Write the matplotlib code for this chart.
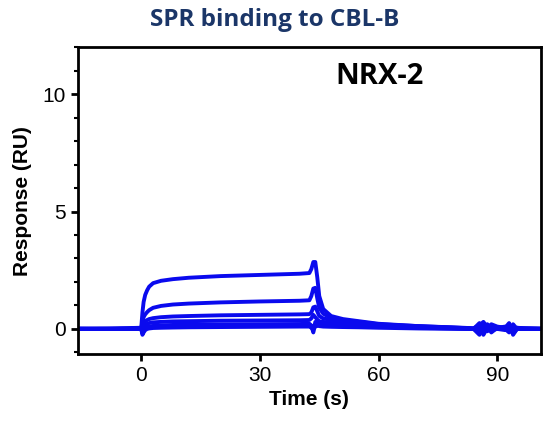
import matplotlib
matplotlib.use("Agg")
import matplotlib.pyplot as plt
from matplotlib.ticker import MultipleLocator

# Sensorgram time points (s), shared by all curves
time_s = [-16, -10, -5, 0, 0.3, 0.6, 1, 1.5, 2, 3, 5, 8, 12, 20, 30, 40,
          42.5, 43, 43.5, 44, 44.5, 45, 46, 48, 51, 55, 60, 70, 80, 84,
          85.5, 86.5, 87.5, 88.5, 90, 92, 93, 94, 95, 97, 101]

# Response (RU) for each concentration, highest first
resp_1 = [0.02, 0.0, 0.03, 0.05, 0.7, 1.15, 1.45, 1.65, 1.8, 1.95, 2.05, 2.12,
          2.18, 2.25, 2.3, 2.35, 2.38, 2.55, 2.85, 2.85, 2.2, 1.4, 0.85, 0.55,
          0.42, 0.33, 0.22, 0.12, 0.06, 0.03, 0.15, 0.3, 0.05, 0.2, 0.1, 0.05,
          0.25, -0.1, 0.05, 0.03, 0.02]
resp_2 = [0.0, 0.02, 0.0, 0.03, 0.3, 0.5, 0.62, 0.72, 0.8, 0.9, 0.98, 1.04,
          1.08, 1.13, 1.17, 1.2, 1.22, 1.4, 1.72, 1.75, 1.3, 0.9, 0.65, 0.47,
          0.38, 0.3, 0.2, 0.12, 0.05, 0.02, -0.1, 0.25, 0.1, -0.15, 0.05, 0.0,
          -0.15, 0.2, 0.0, 0.02, 0.0]
resp_3 = [0.0, 0.0, 0.02, 0.0, 0.12, 0.25, 0.33, 0.38, 0.42, 0.46, 0.5, 0.53,
          0.55, 0.58, 0.6, 0.62, 0.63, 0.7, 0.92, 0.95, 0.75, 0.55, 0.45, 0.38,
          0.32, 0.26, 0.18, 0.1, 0.04, 0.0, 0.25, -0.2, 0.1, 0.0, 0.05, 0.1,
          0.0, -0.15, 0.05, 0.0, 0.01]
resp_4 = [0.0, 0.01, 0.0, 0.0, -0.05, 0.1, 0.17, 0.22, 0.25, 0.28, 0.3, 0.32,
          0.33, 0.35, 0.36, 0.37, 0.38, 0.45, 0.6, 0.5, 0.4, 0.33, 0.3, 0.27,
          0.23, 0.2, 0.15, 0.08, 0.03, 0.0, -0.25, 0.1, 0.2, -0.05, 0.0, 0.0,
          0.2, -0.25, 0.0, 0.02, 0.0]
resp_5 = [0.01, 0.0, 0.0, 0.0, -0.2, -0.1, 0.0, 0.08, 0.1, 0.13, 0.15, 0.17,
          0.18, 0.19, 0.2, 0.21, 0.22, 0.15, -0.15, 0.3, 0.25, 0.2, 0.18, 0.16,
          0.14, 0.12, 0.1, 0.05, 0.02, 0.0, 0.1, -0.25, 0.05, 0.1, 0.0, 0.05,
          -0.05, 0.1, 0.0, 0.0, 0.0]
resp_6 = [0.0, 0.0, 0.0, 0.0, -0.25, -0.15, -0.05, 0.0, 0.02, 0.04, 0.05, 0.06,
          0.07, 0.08, 0.09, 0.1, 0.1, 0.05, -0.05, 0.1, 0.15, 0.12, 0.1, 0.09,
          0.08, 0.07, 0.05, 0.02, 0.0, 0.0, -0.1, 0.2, -0.1, 0.05, 0.0, -0.05,
          0.1, -0.2, 0.0, 0.0, 0.0]

curves = [resp_1, resp_2, resp_3, resp_4, resp_5, resp_6]

plt.rcParams["font.family"] = ["Liberation Sans", "DejaVu Sans"]

fig = plt.figure(figsize=(5.49, 4.21), dpi=100)
ax = fig.add_axes([0.142, 0.159, 0.843, 0.729])

for r in curves:
    ax.plot(time_s, r, color="#0a0aee", linewidth=2.8, solid_joinstyle="round")

ax.set_xlim(-16, 101)
ax.set_ylim(-1.07, 12)
ax.set_xticks([0, 30, 60, 90])
ax.set_yticks([0, 5, 10])
ax.yaxis.set_minor_locator(MultipleLocator(1))

for s in ax.spines.values():
    s.set_linewidth(2)
ax.tick_params(which="major", direction="out", length=5, width=2, labelsize=15)
ax.tick_params(which="minor", direction="out", length=3, width=1.5)

ax.set_xlabel("Time (s)", fontsize=15, fontweight="bold", labelpad=4)
ax.set_ylabel("Response (RU)", fontsize=15, fontweight="bold", labelpad=8)

ax.text(0.652, 0.906, "NRX-2", transform=ax.transAxes, ha="center", va="center",
        fontsize=21, fontweight="bold", family=["Open Sans", "DejaVu Sans"])

fig.text(0.5, 0.953, "SPR binding to CBL-B", ha="center", va="center",
         fontsize=17.5, fontweight="bold", color="#1b3668",
         family=["Open Sans", "DejaVu Sans"])

fig.savefig("out.png", dpi=100)
